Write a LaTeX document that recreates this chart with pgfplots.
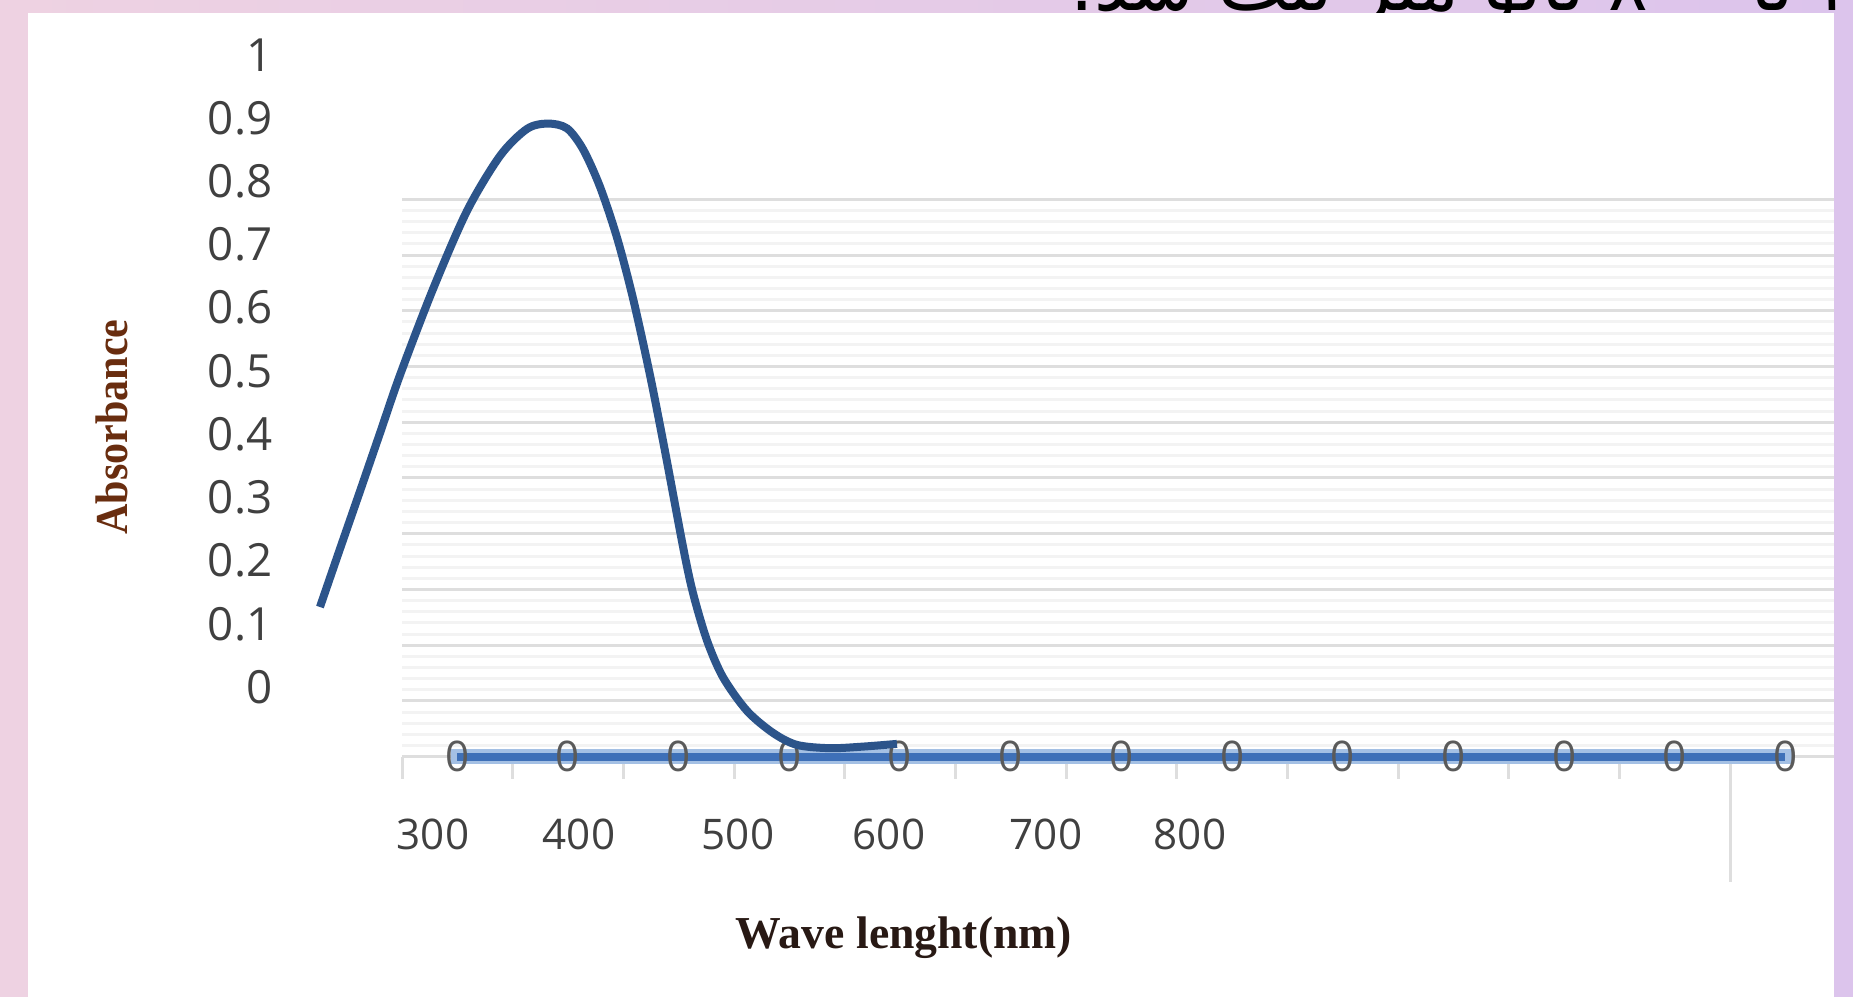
\documentclass[border=0pt]{standalone}
\usepackage{pgfplots}
\pgfplotsset{compat=1.18}
\usepackage{pgfplotstable}
\usepackage{fontspec}
\setmainfont{Open Sans}
\newfontfamily\labelfont{Liberation Serif}
\newfontfamily\arabicfont[Script=Arabic]{DejaVu Sans}
\TeXXeTstate=1

\definecolor{curveblue}{RGB}{44,84,138}
\definecolor{lineblue}{RGB}{62,112,184}
\definecolor{halo}{RGB}{164,192,228}
\definecolor{gridmaj}{RGB}{222,222,222}
\definecolor{gridmin}{RGB}{243,243,243}
\definecolor{bgpink}{RGB}{238,210,226}
\definecolor{bglav}{RGB}{220,196,236}
\definecolor{labbrown}{RGB}{105,45,15}
\definecolor{labdark}{RGB}{40,25,20}
\definecolor{zerogray}{RGB}{90,90,90}
\definecolor{ticktext}{RGB}{64,64,64}

% absorbance spectrum
\pgfplotstableread{
x y
227.0 0.1265
240.1 0.2183
253.3 0.3100
266.4 0.4018
279.5 0.4935
301.1 0.6292
323.4 0.7529
345.1 0.8401
362.8 0.8828
376.5 0.8912
389.0 0.8836
399.5 0.8507
410.6 0.7915
421.8 0.7108
432.3 0.6147
443.4 0.4937
453.3 0.3727
465.1 0.2218
471.6 0.1490
480.8 0.0737
491.3 0.0155
507.0 -0.0376
524.1 -0.0726
539.8 -0.0916
561.5 -0.0968
583.1 -0.0943
605.4 -0.0900
}\spectrum

\begin{document}
\begin{tikzpicture}
% page background and the cut-off sentence above the chart
\shade[left color=bgpink, right color=bglav] (0,0) rectangle (18.53,9.97);
\begin{scope}
\clip (0,0) rectangle (18.53,9.97);
\node[anchor=base west, inner sep=0pt, font=\fontsize{21}{24}\selectfont] at (10.70,9.86)
  {\arabicfont\beginR از \beginL۲۰۰\endL{} تا \beginL۸۰۰\endL{} نانو متر ثبت شد.\endR};
\end{scope}
\fill[white] (0.28,0) rectangle (18.34,9.84);

% category chart (line of zeros) with its grid
\begin{axis}[
  at={(4.02cm,2.403cm)}, anchor=south west,
  scale only axis, width=14.32cm, height=5.574cm,
  xmin=0.5, xmax=13.439, ymin=0, ymax=10,
  axis x line*=bottom, axis y line*=left,
  x axis line style={draw=gridmaj, line width=0.3mm, -},
  y axis line style={draw=none},
  xtick={0.5,1.5,...,11.5}, xticklabels={},
  extra x ticks={12.5}, extra x tick labels={},
  extra x tick style={major tick length=12.5mm},
  tick align=outside, major tick length=2.2mm,
  xtick style={draw=gridmaj, line width=0.3mm},
  ytick={0,1,...,10}, yticklabels={}, minor y tick num=4,
  ytick style={draw=none},
  ymajorgrids, yminorgrids,
  major grid style={draw=gridmaj, line width=0.3mm},
  minor grid style={draw=gridmin, line width=0.3mm},
  clip=false,
]
\addplot[halo, line width=1.5mm, forget plot] coordinates {(0.94,0) (13.07,0)};
\addplot[lineblue, line width=0.8mm,
  nodes near coords={0},
  nodes near coords style={anchor=center, inner sep=0pt, text=zerogray,
    font=\fontsize{12}{14}\selectfont}]
  coordinates {(1,0) (2,0) (3,0) (4,0) (5,0) (6,0) (7,0) (8,0) (9,0) (10,0) (11,0) (12,0) (13,0)};
\end{axis}

% absorbance curve with its own scale
\begin{axis}[
  at={(2.788cm,1.79cm)}, anchor=south west,
  scale only axis, width=10.674cm, height=7.632cm,
  xmin=200, xmax=900, ymin=-0.2072, ymax=1,
  axis line style={draw=none}, tick style={draw=none},
  xtick={301.1,396.9,501.1,600.2,703.1,797.6},
  xticklabels={300,400,500,600,700,800},
  ytick={0,0.1,0.2,0.3,0.4,0.5,0.6,0.7,0.8,0.9,1},
  yticklabels={0,0.1,0.2,0.3,0.4,0.5,0.6,0.7,0.8,0.9,1},
  yticklabel style={anchor=east, inner sep=0pt, xshift=-0.58mm,
    font=\fontsize{13}{15}\selectfont, text=ticktext},
  xticklabel style={anchor=north, inner sep=0pt,
    font=\fontsize{12}{14}\selectfont, text=ticktext},
  xlabel={Wave lenght(nm)},
  ylabel={\scalebox{0.92}[1]{Absorbance}},
  xlabel style={at={(axis description cs:0.5857,-0.1572)}, anchor=center,
    font=\labelfont\bfseries\fontsize{13}{15}\selectfont, text=labdark},
  ylabel style={at={(axis description cs:-0.1563,0.5123)}, anchor=center,
    font=\labelfont\bfseries\fontsize{13}{15}\selectfont, text=labbrown},
  clip=false,
]
\addplot[curveblue, line width=0.8mm, smooth] table {\spectrum};
\end{axis}
\end{tikzpicture}
\end{document}
